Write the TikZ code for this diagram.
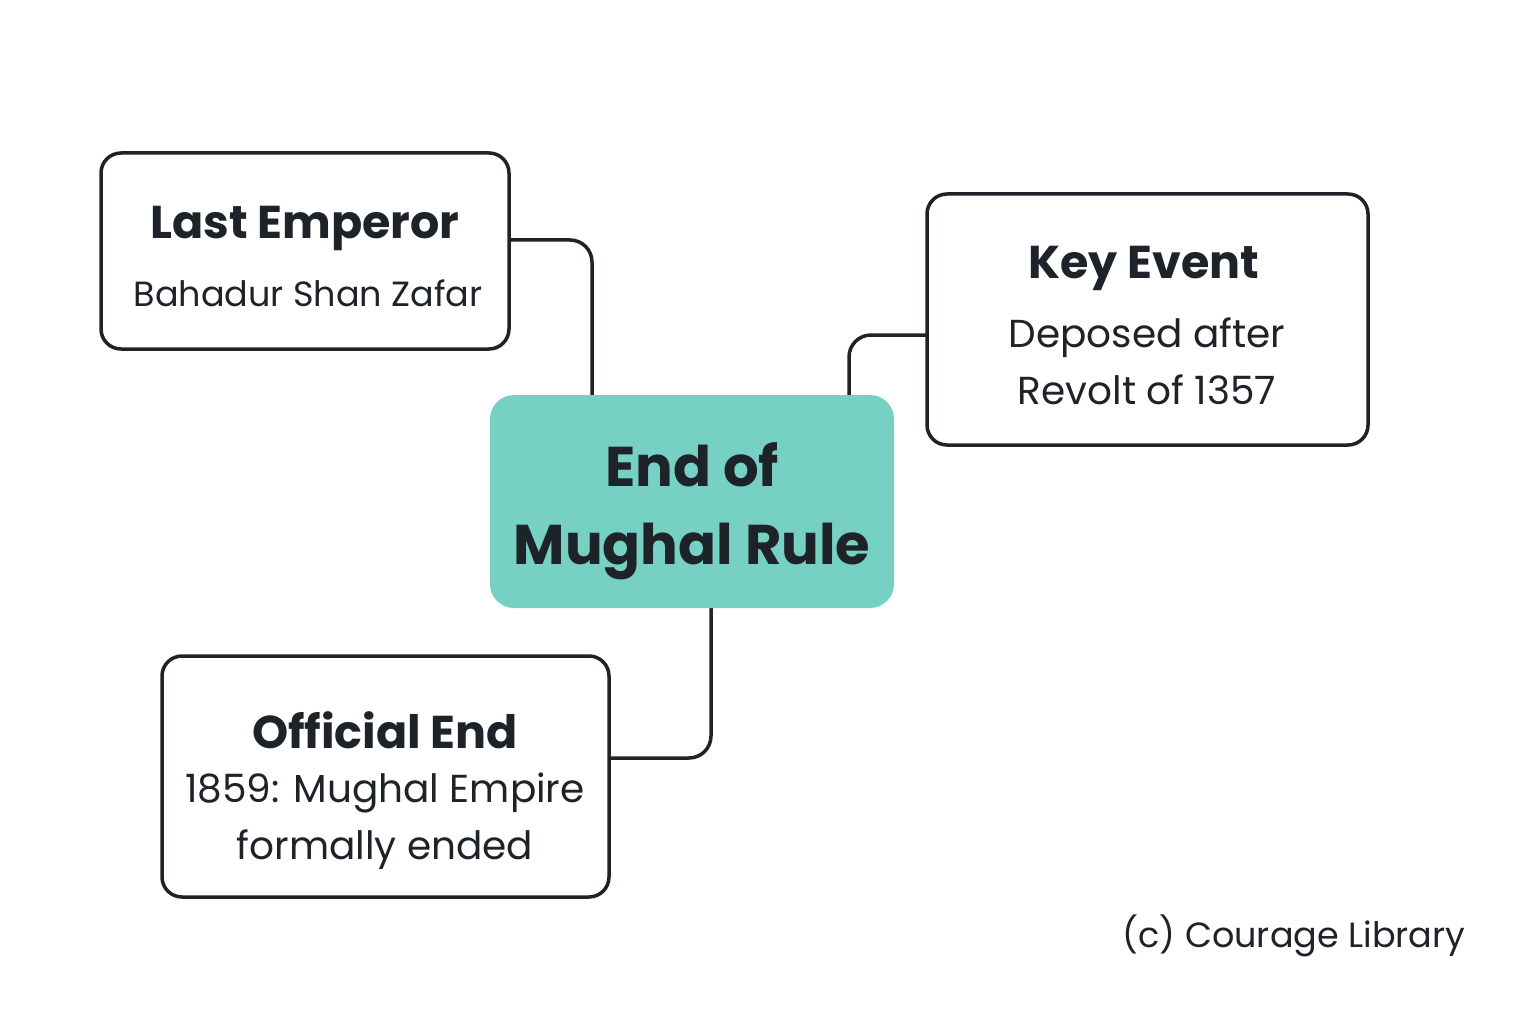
\documentclass[tikz,border=0pt]{standalone}
\usepackage{fontspec}
\setmainfont{Poppins}
\definecolor{ink}{HTML}{1E2329}
\definecolor{teal}{HTML}{76D0C4}
\begin{document}
\begin{tikzpicture}[x=1pt,y=-1pt,
  box/.style={draw=ink,line width=3.5pt,rounded corners=20pt,fill=white},
  conn/.style={draw=ink,line width=3.5pt,rounded corners=22pt},
  ttl/.style={text=ink,font=\fontsize{46}{50}\selectfont\bfseries},
  sub/.style={text=ink,font=\fontsize{39}{57}\selectfont,align=center}]
\useasboundingbox (0,0) rectangle (1536,1024);
\fill[white] (0,0) rectangle (1536,1024);
\coordinate (c1) at (592,395);
\coordinate (c2) at (849,395);
\coordinate (c3) at (711,608);
\draw[conn] (509,240) -- (592,240) -- (c1);
\draw[conn] (927,335) -- (849,335) -- (c2);
\draw[conn] (609,758) -- (711,758) -- (c3);
\node[box,minimum width=408pt,minimum height=196pt] (le) at (305,251) {};
\node[box,minimum width=441pt,minimum height=251pt] (ke) at (1147.5,319.5) {};
\node[box,minimum width=447pt,minimum height=241pt] (oe) at (385.5,776.5) {};
\node[fill=teal,rounded corners=24pt,minimum width=404pt,minimum height=213pt] (cen) at (692,501.5) {};
\node[ttl] (t1) at (305,228) {Last Emperor};
\node[sub,font=\fontsize{35}{50}\selectfont] (s1) at (308,293) {Bahadur Shan Zafar};
\node[ttl] (t2) at (1144,268) {Key Event};
\node[sub] (s2) at (1147,361) {Deposed after\\Revolt of 1357};
\node[ttl] (t3) at (385,730) {Official End};
\node[sub] (s3) at (385,821) {1859: Mughal Empire\\formally ended};
\node[text=ink,font=\fontsize{56}{78}\selectfont\bfseries,align=center] (ct) at (692,511) {End of\\Mughal Rule};
\node[text=ink,font=\fontsize{35}{40}\selectfont] (cr) at (1294,936) {(c) Courage Library};
\end{tikzpicture}
\end{document}
